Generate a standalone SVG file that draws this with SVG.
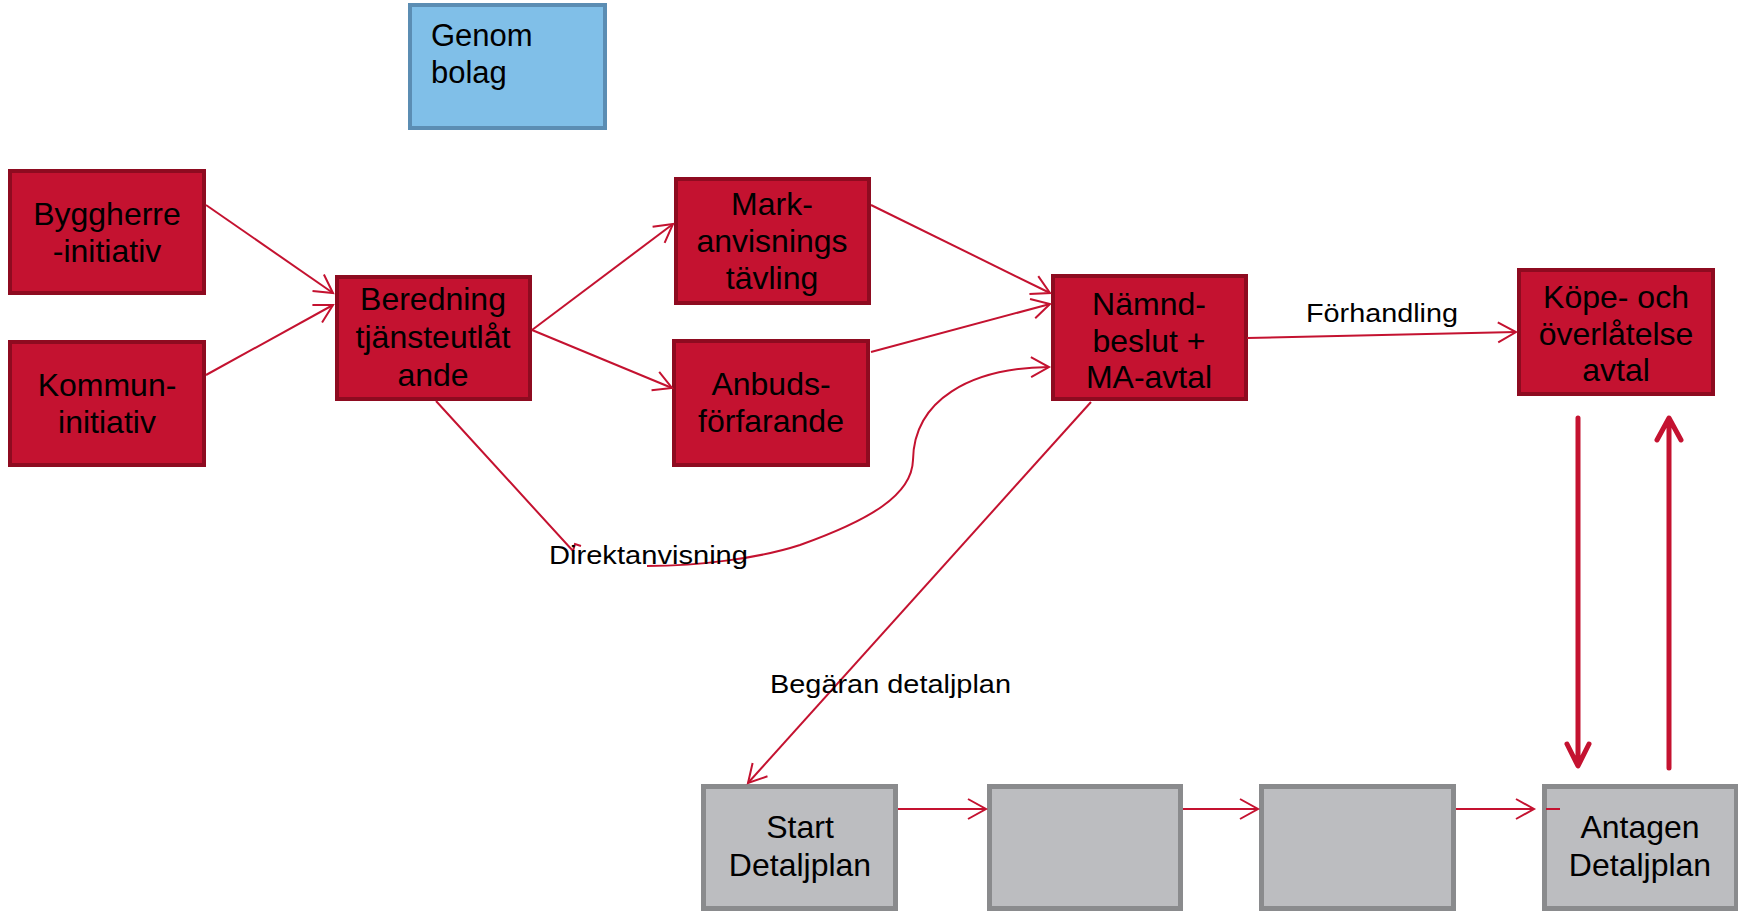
<svg xmlns="http://www.w3.org/2000/svg" width="1738" height="912" viewBox="0 0 1738 912">
<style>
.red{fill:#c41230;stroke:#8e0b20;stroke-width:4}
.blue{fill:#80bfe8;stroke:#5b8db3;stroke-width:4}
.gray{fill:#bcbdc0;stroke:#8a8b8d;stroke-width:5}
.t{font-family:"Liberation Sans",Arial,sans-serif;font-size:32px;fill:#000;text-anchor:middle}
.tl{font-family:"Liberation Sans",Arial,sans-serif;font-size:31px;fill:#000}
.lbl{font-family:"Liberation Sans",Arial,sans-serif;font-size:26px;fill:#000}
.c{fill:none;stroke:#c41230;stroke-width:2}
.thick{fill:none;stroke:#c41230;stroke-width:5;stroke-linecap:round;stroke-linejoin:round}
</style>
<defs>
<marker id="arr" markerUnits="userSpaceOnUse" markerWidth="24" markerHeight="24" viewBox="-20 -12 24 24" refX="0" refY="0" orient="auto">
<path d="M -18 -10 L 0 0 L -18 10" fill="none" stroke="#c41230" stroke-width="2"/>
</marker>
</defs>
<rect width="1738" height="912" fill="#fff"/>
<g id="genom"><rect class="blue" x="410" y="5" width="195" height="123"/><text class="tl" x="431" y="46">Genom</text><text class="tl" x="431" y="83">bolag</text></g>
<g id="byggherre"><rect class="red" x="10" y="171" width="194" height="122"/><text class="t" x="107" y="225">Byggherre</text><text class="t" x="107" y="262">-initiativ</text></g>
<g id="kommun"><rect class="red" x="10" y="342" width="194" height="123"/><text class="t" x="107" y="396">Kommun-</text><text class="t" x="107" y="433">initiativ</text></g>
<g id="beredning"><rect class="red" x="337" y="277" width="193" height="122"/><text class="t" x="433" y="310">Beredning</text><text class="t" x="433" y="348">tjänsteutlåt</text><text class="t" x="433" y="386">ande</text></g>
<g id="mark"><rect class="red" x="676" y="179" width="193" height="124"/><text class="t" x="772" y="215">Mark-</text><text class="t" x="772" y="252">anvisnings</text><text class="t" x="772" y="289">tävling</text></g>
<g id="anbud"><rect class="red" x="674" y="341" width="194" height="124"/><text class="t" x="771" y="395">Anbuds-</text><text class="t" x="771" y="432">förfarande</text></g>
<g id="namnd"><rect class="red" x="1053" y="276" width="193" height="123"/><text class="t" x="1149" y="315">Nämnd-</text><text class="t" x="1149" y="352">beslut +</text><text class="t" x="1149" y="388">MA-avtal</text></g>
<g id="kope"><rect class="red" x="1519" y="270" width="194" height="124"/><text class="t" x="1616" y="308">Köpe- och</text><text class="t" x="1616" y="345">överlåtelse</text><text class="t" x="1616" y="381">avtal</text></g>
<g id="start"><rect class="gray" x="703.5" y="786.5" width="192" height="122"/><text class="t" x="800" y="838">Start</text><text class="t" x="800" y="876">Detaljplan</text></g>
<g id="steg2"><rect class="gray" x="989.5" y="786.5" width="191" height="122"/></g>
<g id="steg3"><rect class="gray" x="1261.5" y="786.5" width="192" height="122"/></g>
<g id="antagen"><rect class="gray" x="1544.5" y="786.5" width="192" height="122"/><text class="t" x="1640" y="838">Antagen</text><text class="t" x="1640" y="876">Detaljplan</text></g>
<g id="connectors">
<path class="c" d="M 206 205 L 333 293" marker-end="url(#arr)"/>
<path class="c" d="M 206 375 L 333 305" marker-end="url(#arr)"/>
<path class="c" d="M 532 330 L 673 224" marker-end="url(#arr)"/>
<path class="c" d="M 532 330 L 672 388" marker-end="url(#arr)"/>
<path class="c" d="M 871 205 L 1050 293" marker-end="url(#arr)"/>
<path class="c" d="M 871 352 L 1050 304" marker-end="url(#arr)"/>
<path class="c" d="M 1247 338 L 1516 332" marker-end="url(#arr)"/>
<path class="c" d="M 1091 402 L 748 783" marker-end="url(#arr)"/>
<path class="c" d="M 898 809 L 986 809" marker-end="url(#arr)"/>
<path class="c" d="M 1183 809 L 1258 809" marker-end="url(#arr)"/>
<path class="c" d="M 1456 809 L 1534 809" marker-end="url(#arr)"/>
<path class="c" d="M 1546 809 L 1560 809"/>
<path class="c" d="M 436 401 L 573 551 L 575 544 L 581 546"/>
<path class="c" d="M 647 566 C 700 566, 760 558, 800 545 C 870 520, 912 495, 913 460 C 914 400, 970 368, 1049 367" marker-end="url(#arr)"/>
<path class="thick" d="M 1578 418 L 1578 765 M 1567 744 L 1578 766 L 1589 744"/>
<path class="thick" d="M 1669 768 L 1669 419 M 1657 440 L 1669 418 L 1681 440"/>
<text class="lbl" x="1306" y="322" textLength="152" lengthAdjust="spacingAndGlyphs">Förhandling</text>
<text class="lbl" x="549" y="564" textLength="199" lengthAdjust="spacingAndGlyphs">Direktanvisning</text>
<text class="lbl" x="770" y="693" textLength="241" lengthAdjust="spacingAndGlyphs">Begäran detaljplan</text>
</g>
</svg>
